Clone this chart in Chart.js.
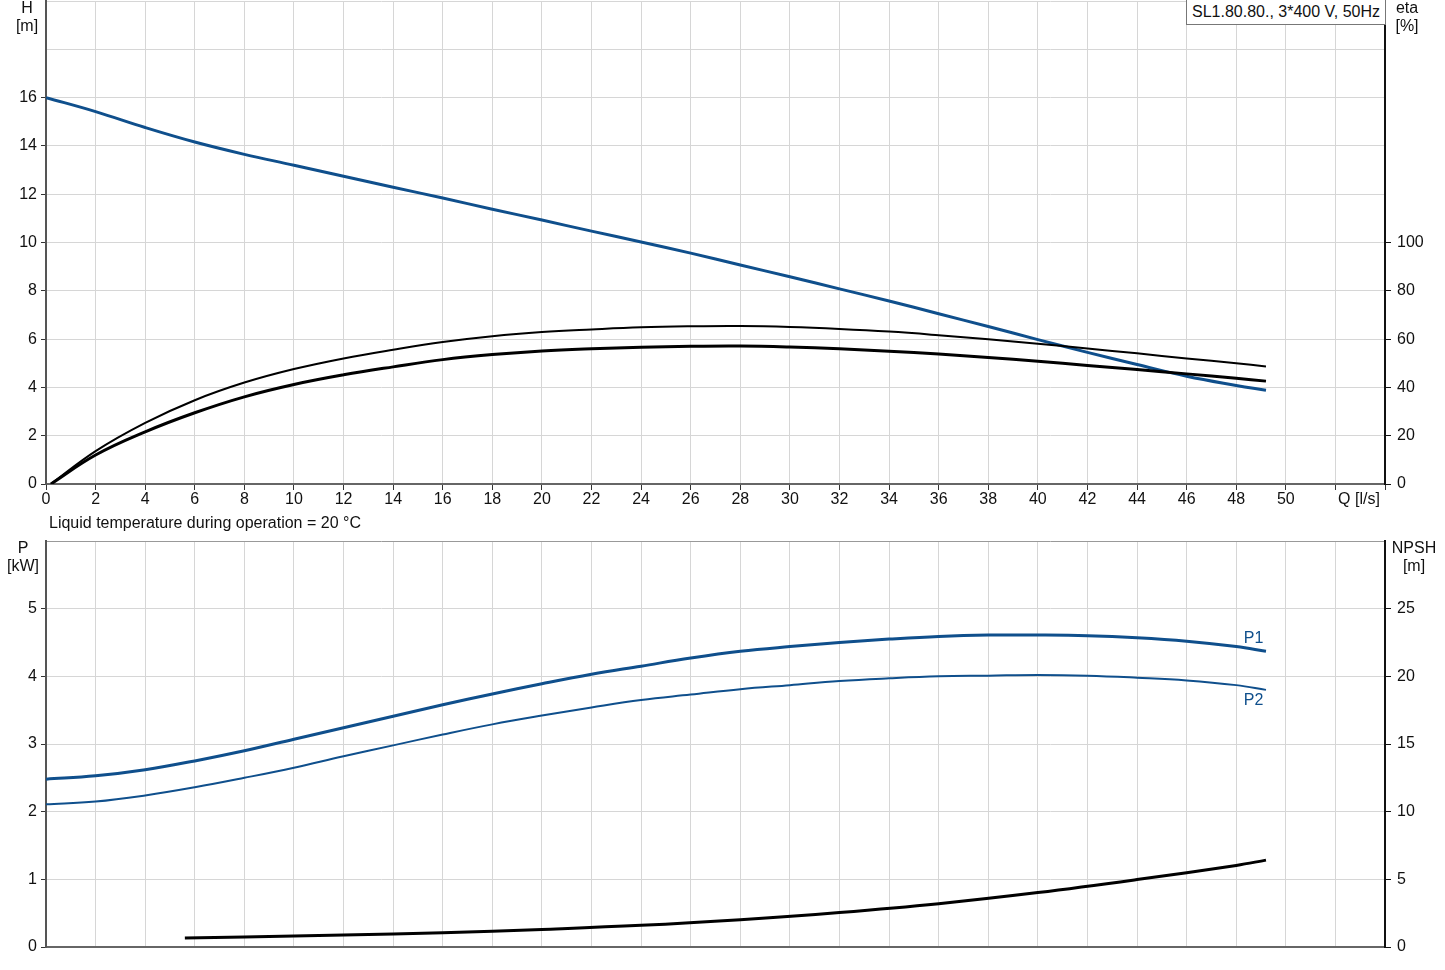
<!DOCTYPE html>
<html>
<head>
<meta charset="utf-8">
<script src="https://cdn.jsdelivr.net/npm/chart.js@4/dist/chart.umd.min.js"></script>
<style>
  body { margin: 0; background: #fff; font-family: Arial, 'Liberation Sans', sans-serif; }
  .wrap { position: relative; width: 1445px; height: 970px; }
  canvas { position: absolute; left: 0; }
  .lbl { position: absolute; font-size: 16px; color: #111; line-height: 18px; text-align: center; white-space: nowrap; }
  .model { position: absolute; left: 1186px; top: 0; width: 198px; height: 24px; border: 1px solid #777; border-top: none;
           background: #fff; font-size: 16px; line-height: 23px; text-align: center; color: #111; }
</style>
</head>
<body>
<div class="wrap">
  <canvas id="top" width="1445" height="540" style="top:0"></canvas>
  <canvas id="bottom" width="1445" height="440" style="top:530px"></canvas>
  <div class="lbl" style="left:12px;top:-1px;width:30px">H<br>[m]</div>
  <div class="lbl" style="left:1391px;top:-1px;width:32px">eta<br>[%]</div>
  <div class="model">SL1.80.80., 3*400 V, 50Hz</div>
  <div class="lbl" style="left:1336px;top:490px;width:46px">Q [l/s]</div>
  <div class="lbl" style="left:49px;top:514px;text-align:left">Liquid temperature during operation = 20 °C</div>
  <div class="lbl" style="left:4px;top:539px;width:38px">P<br>[kW]</div>
  <div class="lbl" style="left:1388px;top:539px;width:52px">NPSH<br>[m]</div>
</div>
<script>
// flow rate points [l/s]
const qMain = [0, 2, 4, 6, 8, 10, 12, 14, 16, 18, 20, 22, 24, 26, 28, 30, 32, 34, 36, 38, 40, 42, 44, 46, 48, 49.2];
const headH = [16.0, 15.42, 14.76, 14.16, 13.65, 13.2, 12.74, 12.29, 11.84, 11.38, 10.93, 10.47, 10.02, 9.56, 9.07, 8.58, 8.08, 7.58, 7.05, 6.52, 5.98, 5.45, 4.95, 4.46, 4.08, 3.88];

const qEta = [0.2, 2, 4, 6, 8, 10, 12, 14, 16, 18, 20, 22, 24, 26, 28, 30, 32, 34, 36, 38, 40, 42, 44, 46, 48, 49.2];
const etaHyd = [0, 13.6, 25.3, 34.7, 42.0, 47.6, 52.0, 55.6, 58.8, 61.2, 62.9, 64.0, 64.9, 65.3, 65.4, 65.0, 64.2, 63.1, 61.6, 59.9, 58.1, 56.1, 54.1, 52.0, 50.0, 48.7];
const etaTot = [0, 12.0, 21.6, 29.5, 36.1, 41.2, 45.2, 48.5, 51.5, 53.6, 55.1, 56.0, 56.6, 57.0, 57.1, 56.7, 56.0, 55.0, 53.8, 52.4, 50.8, 49.1, 47.4, 45.6, 43.8, 42.6];

const powerP1 = [2.48, 2.53, 2.62, 2.75, 2.90, 3.07, 3.24, 3.41, 3.58, 3.74, 3.89, 4.03, 4.15, 4.27, 4.37, 4.44, 4.50, 4.55, 4.59, 4.61, 4.61, 4.60, 4.57, 4.52, 4.44, 4.37];
const powerP2 = [2.11, 2.15, 2.24, 2.36, 2.50, 2.65, 2.82, 2.98, 3.14, 3.29, 3.42, 3.54, 3.65, 3.73, 3.81, 3.87, 3.93, 3.97, 4.00, 4.01, 4.02, 4.01, 3.98, 3.94, 3.87, 3.80];

const qNpsh = [5.6, 8, 12, 16, 20, 24, 28, 32, 36, 40, 44, 48, 49.2];
const npsh = [0.66, 0.74, 0.88, 1.05, 1.30, 1.60, 2.02, 2.55, 3.20, 4.02, 4.98, 6.03, 6.42];

const blue = '#0f4f8c';
const gridColor = '#d6d6d6';
const font = { family: "Arial, 'Liberation Sans', sans-serif", size: 16 };

const pts = (xs, ys) => xs.map((x, i) => ({ x, y: ys[i] }));

function line(data, color, width, axis) {
  return {
    data, borderColor: color, borderWidth: width, pointRadius: 0,
    fill: false, tension: 0.4, yAxisID: axis,
  };
}

// pin the axis sizes so the plot areas sit where the reference has them
const fixWidth = (w) => (scale) => { scale.width = w; scale.paddingTop = 0; scale.paddingBottom = 0; };
const fixHeight = (h) => (scale) => { scale.height = h; scale.paddingLeft = 0; scale.paddingRight = 0; };

const xScale = (showTicks, height) => ({
  type: 'linear', min: 0, max: 54,
  afterFit: fixHeight(height),
  afterBuildTicks: (s) => { s.ticks = []; for (let v = 0; v <= 54; v += 2) s.ticks.push({ value: v }); },
  grid: { color: gridColor, tickColor: '#333', tickLength: 6, drawTicks: showTicks },
  border: { color: '#666', width: 2 },
  ticks: {
    display: showTicks, color: '#111', font, padding: 0, maxRotation: 0, autoSkip: false,
    callback: (v) => (v <= 50 ? v : ''),
  },
});

new Chart(document.getElementById('top'), {
  type: 'line',
  data: {
    datasets: [
      line(pts(qEta, etaHyd), '#000', 2, 'eta'),
      line(pts(qEta, etaTot), '#000', 3, 'eta'),
      line(pts(qMain, headH), blue, 3, 'h'),
    ],
  },
  options: {
    responsive: false, animation: false,
    layout: { padding: { top: 1, left: 0, right: 0, bottom: 0 } },
    plugins: { legend: { display: false }, tooltip: { enabled: false } },
    scales: {
      x: xScale(true, 56),
      h: {
        position: 'left', min: 0, max: 20,
        afterFit: fixWidth(46),
        afterBuildTicks: (s) => { s.ticks = []; for (let v = 0; v <= 20; v += 2) s.ticks.push({ value: v }); },
        grid: {
          color: gridColor, tickLength: 5,
          tickColor: (c) => (c.tick && c.tick.value <= 16 ? '#333' : 'rgba(0,0,0,0)'),
        },
        border: { color: '#555', width: 2 },
        ticks: { color: '#111', font, padding: 4, callback: (v) => (v <= 16 ? v : '') },
      },
      eta: {
        position: 'right', min: 0, max: 200,
        afterFit: fixWidth(60),
        afterBuildTicks: (s) => { s.ticks = []; for (let v = 0; v <= 100; v += 20) s.ticks.push({ value: v }); },
        grid: { drawOnChartArea: false, tickColor: '#111', tickLength: 6 },
        border: { color: '#111', width: 2 },
        ticks: { color: '#111', font, padding: 6 },
      },
    },
  },
});

const curveLabels = {
  id: 'curveLabels',
  afterDatasetsDraw(chart) {
    const { ctx, scales } = chart;
    ctx.save();
    ctx.fillStyle = blue;
    ctx.font = "16px Arial, 'Liberation Sans', sans-serif";
    ctx.textAlign = 'center';
    ctx.textBaseline = 'middle';
    const x = scales.x.getPixelForValue(48.7);
    ctx.fillText('P1', x, scales.p.getPixelForValue(4.56));
    ctx.fillText('P2', x, scales.p.getPixelForValue(3.64));
    ctx.restore();
  },
};

new Chart(document.getElementById('bottom'), {
  type: 'line',
  data: {
    datasets: [
      line(pts(qMain, powerP1), blue, 3, 'p'),
      line(pts(qMain, powerP2), blue, 2, 'p'),
      line(pts(qNpsh, npsh), '#000', 3, 'n'),
    ],
  },
  options: {
    responsive: false, animation: false,
    layout: { padding: { top: 11, left: 0, right: 0, bottom: 0 } },
    plugins: { legend: { display: false }, tooltip: { enabled: false } },
    scales: {
      x: xScale(false, 23),
      p: {
        position: 'left', min: 0, max: 6,
        afterFit: fixWidth(46),
        afterBuildTicks: (s) => { s.ticks = []; for (let v = 0; v <= 6; v += 1) s.ticks.push({ value: v }); },
        grid: {
          color: (c) => (c.tick && c.tick.value === 6 ? '#999' : gridColor), tickLength: 5,
          tickColor: (c) => (c.tick && c.tick.value <= 5 ? '#333' : 'rgba(0,0,0,0)'),
        },
        border: { color: '#555', width: 2 },
        ticks: { color: '#111', font, padding: 4, callback: (v) => (v <= 5 ? v : '') },
      },
      n: {
        position: 'right', min: 0, max: 30,
        afterFit: fixWidth(60),
        afterBuildTicks: (s) => { s.ticks = []; for (let v = 0; v <= 25; v += 5) s.ticks.push({ value: v }); },
        grid: { drawOnChartArea: false, tickColor: '#111', tickLength: 6 },
        border: { color: '#111', width: 2 },
        ticks: { color: '#111', font, padding: 6 },
      },
    },
  },
  plugins: [curveLabels],
});
</script>
</body>
</html>
